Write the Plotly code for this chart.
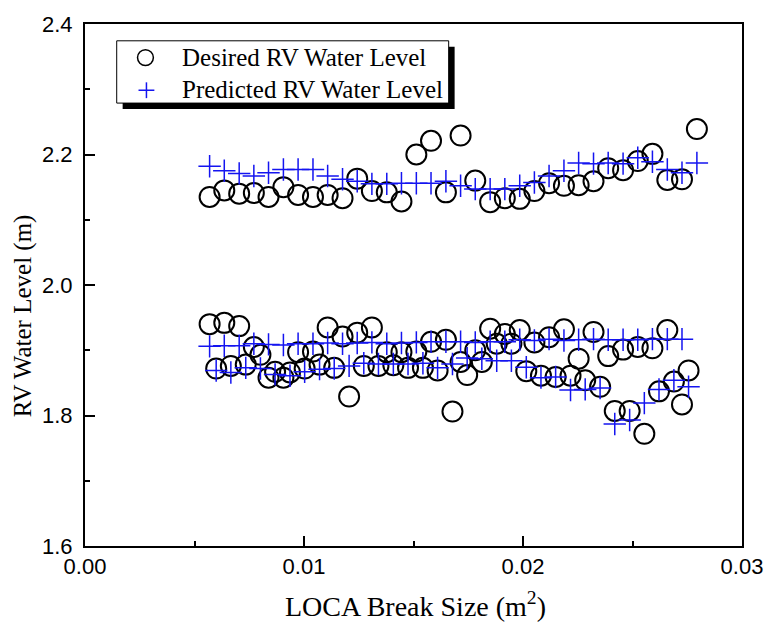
import plotly.graph_objects as go

# Upper group (~2.15 m)
x_upper = [0.00569, 0.00636, 0.00704, 0.00771, 0.00838, 0.00906, 0.00973, 0.01041,
           0.01108, 0.01176, 0.01243, 0.01310, 0.01378, 0.01445, 0.01513, 0.01580,
           0.01648, 0.01715, 0.01782, 0.01850, 0.01917, 0.01985, 0.02052, 0.02119,
           0.02187, 0.02254, 0.02322, 0.02389, 0.02457, 0.02524, 0.02591, 0.02659,
           0.02726, 0.02794]
desired_upper = [2.135, 2.145, 2.140, 2.141, 2.135, 2.150, 2.138, 2.135, 2.138, 2.133,
                 2.163, 2.144, 2.142, 2.128, 2.200, 2.221, 2.142, 2.229, 2.160, 2.127,
                 2.133, 2.132, 2.144, 2.156, 2.152, 2.153, 2.159, 2.179, 2.176, 2.190,
                 2.201, 2.161, 2.162, 2.239]
predicted_upper = [2.182, 2.175, 2.171, 2.167, 2.172, 2.177, 2.177, 2.177, 2.167, 2.162,
                   2.159, 2.155, 2.155, 2.156, 2.156, 2.156, 2.159, 2.152, 2.147, 2.147,
                   2.147, 2.152, 2.157, 2.167, 2.175, 2.187, 2.186, 2.187, 2.186, 2.195,
                   2.189, 2.177, 2.172, 2.187]

# Middle group (~1.91 m)
x_mid = [0.00569, 0.00636, 0.00704, 0.00771, 0.00838, 0.00906, 0.00973, 0.01041,
         0.01108, 0.01176, 0.01243, 0.01310, 0.01378, 0.01445, 0.01513, 0.01580,
         0.01648, 0.01715, 0.01782, 0.01850, 0.01917, 0.01985, 0.02052, 0.02119,
         0.02187, 0.02254, 0.02322, 0.02389, 0.02457, 0.02524, 0.02591, 0.02659,
         0.02726]
desired_mid = [1.940, 1.942, 1.937, 1.905, 1.858, 1.858, 1.897, 1.898, 1.935, 1.921,
               1.927, 1.935, 1.897, 1.897, 1.898, 1.913, 1.916, 1.882, 1.900, 1.933,
               1.925, 1.931, 1.912, 1.920, 1.932, 1.887, 1.928, 1.891, 1.901, 1.905,
               1.903, 1.931, 1.817]
predicted_mid = [1.906, 1.907, 1.907, 1.910, 1.909, 1.908, 1.910, 1.910, 1.911, 1.910,
                 1.911, 1.912, 1.910, 1.911, 1.912, 1.913, 1.913, 1.913, 1.912, 1.913,
                 1.913, 1.916, 1.915, 1.917, 1.915, 1.916, 1.917, 1.916, 1.916, 1.916,
                 1.917, 1.917, 1.917]

# Lower group (~1.87 m)
x_low = [0.00599, 0.00666, 0.00734, 0.00801, 0.00868, 0.00936, 0.01003, 0.01071,
         0.01138, 0.01206, 0.01273, 0.01340, 0.01408, 0.01475, 0.01543, 0.01610,
         0.01678, 0.01745, 0.01812, 0.01880, 0.01947, 0.02015, 0.02082, 0.02149,
         0.02217, 0.02284, 0.02352, 0.02419, 0.02487, 0.02554, 0.02621, 0.02689,
         0.02756]
desired_low = [1.872, 1.876, 1.878, 1.893, 1.867, 1.866, 1.872, 1.878, 1.873, 1.829,
               1.876, 1.876, 1.877, 1.873, 1.873, 1.869, 1.806, 1.862, 1.882, 1.910,
               1.910, 1.868, 1.861, 1.859, 1.861, 1.854, 1.844, 1.807, 1.807, 1.772,
               1.837, 1.852, 1.869]
predicted_low = [1.869, 1.866, 1.873, 1.872, 1.863, 1.861, 1.867, 1.871, 1.872, 1.876,
                 1.880, 1.879, 1.879, 1.879, 1.880, 1.873, 1.879, 1.888, 1.887, 1.884,
                 1.884, 1.874, 1.858, 1.859, 1.839, 1.840, 1.842, 1.787, 1.793, 1.819,
                 1.840, 1.854, 1.844]

series_names = ["Desired RV Water Level", "Predicted RV Water Level"]

x_all = x_upper + x_mid + x_low
desired_all = desired_upper + desired_mid + desired_low
predicted_all = predicted_upper + predicted_mid + predicted_low

SERIF = "Liberation Serif, Times New Roman, serif"
SANS = "Liberation Sans, Arial, sans-serif"
BLUE = "#1414f0"

fig = go.Figure()
fig.add_trace(go.Scatter(
    x=x_all, y=desired_all, mode="markers", name=series_names[0],
    marker=dict(symbol="circle-open", size=20, color="black", line=dict(width=2, color="black")),
))
fig.add_trace(go.Scatter(
    x=x_all, y=predicted_all, mode="markers", name=series_names[1],
    marker=dict(symbol="cross-thin-open", size=16, color=BLUE, line=dict(width=1.5, color=BLUE)),
))

L, R, T, B = 85, 27, 18, 82
W, H = 775, 628
pw, ph = W - L - R, H - T - B

def px_x(px):
    return (px - L) / pw

def px_y(py):
    return (H - B - py) / ph

# ---- custom legend box with drop shadow ----
fig.add_shape(type="rect", xref="paper", yref="paper",
              x0=px_x(123), x1=px_x(458), y0=px_y(104), y1=px_y(41),
              fillcolor="black", line=dict(width=0), layer="above")
fig.add_shape(type="rect", xref="paper", yref="paper",
              x0=px_x(117), x1=px_x(452), y0=px_y(98), y1=px_y(35),
              fillcolor="white", line=dict(width=1, color="black"), layer="above")
# circle glyph
fig.add_shape(type="circle", xref="paper", yref="paper",
              x0=px_x(138), x1=px_x(154), y0=px_y(60), y1=px_y(44),
              fillcolor="rgba(0,0,0,0)", line=dict(width=1.5, color="black"), layer="above")
# plus glyph
fig.add_shape(type="line", xref="paper", yref="paper",
              x0=px_x(139), x1=px_x(155), y0=px_y(85), y1=px_y(85),
              line=dict(width=1.5, color=BLUE), layer="above")
fig.add_shape(type="line", xref="paper", yref="paper",
              x0=px_x(147), x1=px_x(147), y0=px_y(77), y1=px_y(93),
              line=dict(width=1.5, color=BLUE), layer="above")
for name, ypix in zip(series_names, [52, 84]):
    fig.add_annotation(text=name, xref="paper", yref="paper",
                       x=px_x(181), y=px_y(ypix), xanchor="left", yanchor="middle",
                       showarrow=False, font=dict(family=SERIF, size=25, color="black"))

# axis titles
fig.add_annotation(text="RV Water Level (m)", textangle=-90,
                   xref="paper", yref="paper",
                   x=px_x(22), y=px_y(313),
                   xanchor="center", yanchor="middle", showarrow=False,
                   font=dict(family=SERIF, size=25, color="black"))
fig.add_annotation(text="LOCA Break Size (m<sup>2</sup>)",
                   xref="paper", yref="paper",
                   x=px_x(419), y=px_y(605),
                   xanchor="center", yanchor="middle", showarrow=False,
                   font=dict(family=SERIF, size=28, color="black"))

fig.update_layout(
    width=W, height=H,
    margin=dict(l=L, r=R, t=T, b=B, pad=0),
    paper_bgcolor="white", plot_bgcolor="white",
    showlegend=False,
    xaxis=dict(
        range=[0, 0.03], tickvals=[0.0, 0.01, 0.02, 0.03],
        ticktext=["0.00", "0.01", "0.02", "0.03"],
        ticks="inside", ticklen=10, tickwidth=1.5, tickcolor="black",
        minor=dict(ticks="inside", ticklen=5, tickwidth=1.5, tickcolor="black", dtick=0.005),
        showline=True, linewidth=2, linecolor="black", mirror=True,
        showgrid=False, zeroline=False,
        tickfont=dict(family=SANS, size=22, color="black"),
    ),
    yaxis=dict(
        range=[1.6, 2.4], tickvals=[1.6, 1.8, 2.0, 2.2, 2.4],
        ticktext=["1.6", "1.8", "2.0", "2.2", "2.4"],
        ticks="inside", ticklen=10, tickwidth=1.5, tickcolor="black",
        minor=dict(ticks="inside", ticklen=5, tickwidth=1.5, tickcolor="black", dtick=0.1),
        showline=True, linewidth=2, linecolor="black", mirror=True,
        showgrid=False, zeroline=False, ticklabelstandoff=6,
        tickfont=dict(family=SANS, size=22, color="black"),
    ),
)

fig.write_html("out.html")
